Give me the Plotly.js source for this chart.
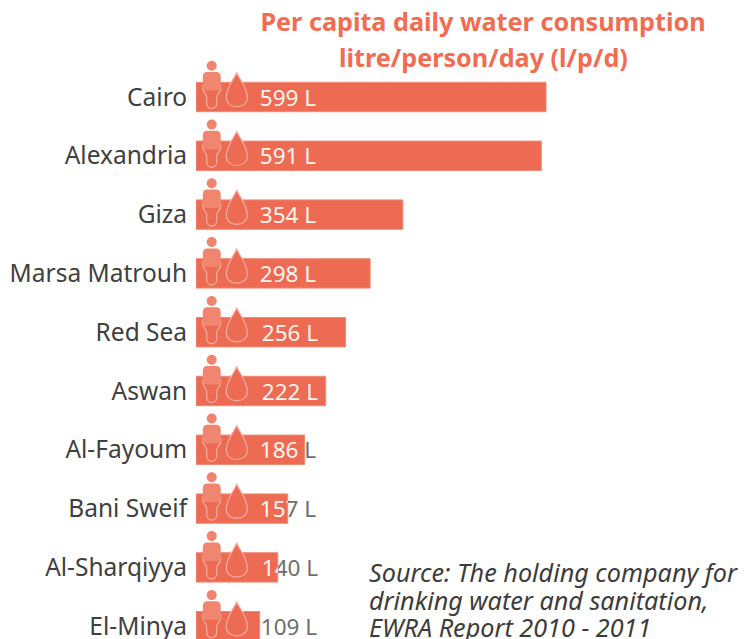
<!DOCTYPE html>
<html><head><meta charset="utf-8">
<script src="https://cdn.plot.ly/plotly-3.0.1.min.js"></script>
<style>html,body{margin:0;padding:0;background:#fff;overflow:hidden}</style></head>
<body><div id="chart" style="width:744px;height:639px"></div>
<script>
const cities = ["Cairo","Alexandria","Giza","Marsa Matrouh","Red Sea","Aswan","Al-Fayoum","Bani Sweif","Al-Sharqiyya","El-Minya"];
const litres = [599,591,354,298,256,222,186,157,140,109];
const labelShift = [0,0,0,0,2,2,0,0,2,1];
const sourceLines = ['Source: The holding company for','drinking water and sanitation,','EWRA Report 2010 - 2011'];
const sourceLineY = [572,600,627];

const FONT = '"Noto Sans", sans-serif';
const CORAL = '#EE6B53';
const W = 744, H = 639, LEFT = 196;
const pxPerUnit = 0.5843, pitch = 58.8, firstRow = 97;
const PW = W - LEFT;
const xMax = PW / pxPerUnit;
const labelCentre = 92 / pxPerUnit;
const labelX = labelShift.map(s => labelCentre + s / pxPerUnit);
const labelText = litres.map(v => v + ' L');

const circle = (cx, cy, r) => {
  const k = r * 0.5523;
  return `M${cx - r},${cy} C${cx - r},${cy + k} ${cx - k},${cy + r} ${cx},${cy + r} C${cx + k},${cy + r} ${cx + r},${cy + k} ${cx + r},${cy} C${cx + r},${cy - k} ${cx + k},${cy - r} ${cx},${cy - r} C${cx - k},${cy - r} ${cx - r},${cy - k} ${cx - r},${cy} Z`;
};
const torso = 'M6.8,20 C6.8,23.5 8.5,25 11,25 L20.5,25 C23,25 24.7,23.5 24.7,20 L24.7,9 C24.7,7 23,6.5 21,6.5 L10.5,6.5 C8.5,6.5 6.8,7 6.8,9 Z';
const legs = 'M6.8,12 L6.8,8 C6.8,4.5 10.7,3.5 10.7,-0.5 L10.7,-6 C10.7,-9.5 13,-11.5 15.7,-11.5 C18.4,-11.5 20.7,-9.5 20.7,-6 L20.7,-0.5 C20.7,3.5 24.7,4.5 24.7,8 L24.7,12';
const drop = 'M40.7,24.3 C38,18 30.3,9.5 30.3,-0.5 C30.3,-6.5 35,-9.7 40.7,-9.7 C46.4,-9.7 51.3,-6.5 51.3,-0.5 C51.3,9.5 43.5,18 40.7,24.3 Z';

const shapes = [];
cities.forEach((c, i) => {
  const base = {type:'path', xref:'x', yref:'y', xsizemode:'pixel', ysizemode:'pixel', xanchor:0, yanchor:i, layer:'above'};
  shapes.push({...base, path:legs, fillcolor:'rgba(255,255,255,0)', line:{color:'#F6AE9F', width:1.2}});
  shapes.push({...base, path:drop, fillcolor:CORAL, line:{color:'#F6AE9F', width:1.2}});
  shapes.push({...base, path:circle(15.7,31.3,5), fillcolor:'#EF8570', line:{width:0}});
  shapes.push({...base, path:torso, fillcolor:'#F0866F', line:{width:0}});
});

const data = [
  {type:'bar', orientation:'h', y:cities.map((c,i)=>i), x:litres, width:0.5,
   marker:{color:CORAL, line:{color:'#F08A75', width:1}}, hoverinfo:'skip'},
  {type:'scatter', mode:'text', y:cities.map((c,i)=>i+0.05), x:labelX, text:labelText, textposition:'middle center',
   textfont:{family:FONT, size:22.5, color:'#6E6E6E'}, hoverinfo:'skip', cliponaxis:false},
  {type:'scatter', mode:'text', y:cities.map((c,i)=>i+0.05), x:labelX, text:labelText, textposition:'middle center',
   textfont:{family:FONT, size:22.5, color:'#FFF4F0'}, hoverinfo:'skip', cliponaxis:false}
];

const TITLE_FONT = {family:FONT, size:25.2, color:'#F26C52', weight:700};
const layout = {
  width:W, height:H, showlegend:false, paper_bgcolor:'#fff', plot_bgcolor:'rgba(0,0,0,0)',
  margin:{l:LEFT, r:0, t:0, b:0, pad:0},
  font:{family:FONT},
  title:{text:'Per capita daily water consumption', font:TITLE_FONT,
         x:483/W, xanchor:'center', xref:'container', yref:'container', y:1-22/H, yanchor:'middle'},
  xaxis:{range:[0,xMax], visible:false, fixedrange:true},
  yaxis:{range:[(H-firstRow)/pitch, -firstRow/pitch], tickmode:'array', tickvals:cities.map((c,i)=>i), ticktext:cities,
         ticks:'outside', ticklen:3, tickcolor:'rgba(0,0,0,0)', showgrid:false, zeroline:false, showline:false,
         ticklabeloverflow:'allow',
         tickfont:{family:FONT, size:24.5, color:'#404040'}, fixedrange:true},
  shapes,
  annotations:[
    {text:'litre/person/day (l/p/d)', xref:'paper', yref:'paper', x:(483-LEFT)/PW, y:1-56.5/H, xanchor:'center', yanchor:'middle',
     showarrow:false, font:TITLE_FONT}
  ].concat(sourceLines.map((t,i)=>({text:t, xref:'paper', yref:'paper', x:(367-LEFT)/PW, y:1-sourceLineY[i]/H, xanchor:'left', yanchor:'middle', showarrow:false,
      font:{family:FONT, size:25.2, color:'#3C3C3C', style:'italic'}})))
};

Plotly.newPlot('chart', data, layout, {displayModeBar:false, staticPlot:true}).then(gd => {
  const xa = gd._fullLayout.xaxis;
  const svg = gd.querySelector('.main-svg');
  const ns = 'http://www.w3.org/2000/svg';
  const defs = document.createElementNS(ns,'defs');
  svg.appendChild(defs);
  const mk = (id,x,w) => {
    const cp = document.createElementNS(ns,'clipPath'); cp.setAttribute('id',id);
    const r = document.createElementNS(ns,'rect');
    r.setAttribute('x',x); r.setAttribute('y',-100); r.setAttribute('width',w); r.setAttribute('height',1000);
    cp.appendChild(r); defs.appendChild(cp);
  };
  const traces = gd.querySelectorAll('.scatterlayer .trace');
  litres.forEach((v,i) => {
    const e = xa.d2p(v);
    mk('out'+i, e, 1000); mk('in'+i, -100, e+100);
    const a = traces[0].querySelectorAll('.textpoint text')[i];
    const b = traces[1].querySelectorAll('.textpoint text')[i];
    if (a) a.setAttribute('clip-path','url(#out'+i+')');
    if (b) b.setAttribute('clip-path','url(#in'+i+')');
  });
});
</script></body></html>
